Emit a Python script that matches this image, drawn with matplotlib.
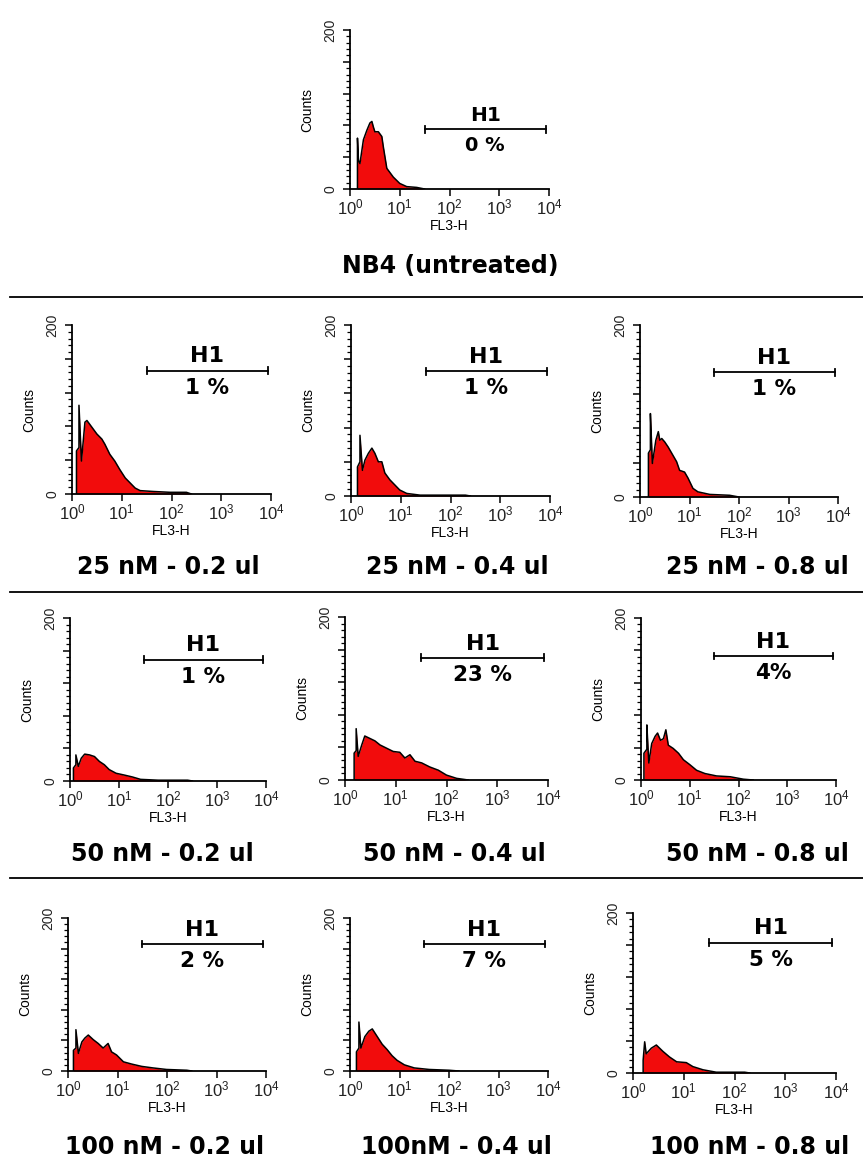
import matplotlib
matplotlib.use('Agg')
import matplotlib.pyplot as plt
import numpy as np
from matplotlib.lines import Line2D
from matplotlib.ticker import FixedLocator, LogLocator, FuncFormatter, NullFormatter

W, H = 863, 1162

# histogram outlines: position in decades (log10 FL3-H) and counts
nb4_pos = [0.15, 0.15, 0.17, 0.2, 0.27, 0.34, 0.4, 0.44, 0.47, 0.5, 0.57, 0.64, 0.67, 0.74, 0.87, 1.0, 1.14, 1.34, 1.5]
nb4_cnt = [0, 64, 36, 32, 62, 74, 83, 85, 78, 72, 72, 66, 53, 26, 15, 7, 3, 2, 0]

a1_pos = [0.09, 0.09, 0.14, 0.14, 0.19, 0.26, 0.3, 0.4, 0.5, 0.6, 0.66, 0.76, 0.86, 0.96, 1.07, 1.17, 1.27, 1.37, 1.63, 1.97, 2.3, 2.4]
a1_cnt = [0, 51, 55, 105, 39, 85, 87, 79, 71, 65, 59, 47, 39, 29, 19, 13, 7, 4, 3, 2, 2, 0]

a2_pos = [0.13, 0.13, 0.18, 0.18, 0.23, 0.28, 0.35, 0.42, 0.48, 0.55, 0.62, 0.68, 0.78, 0.88, 0.98, 1.12, 1.39, 1.8, 2.3, 2.4]
a2_cnt = [0, 34, 40, 71, 30, 42, 50, 56, 50, 40, 40, 27, 19, 13, 7, 3, 1, 1, 1, 0]

a3_pos = [0.17, 0.17, 0.21, 0.21, 0.25, 0.32, 0.37, 0.4, 0.44, 0.5, 0.57, 0.64, 0.74, 0.8, 0.9, 0.97, 1.07, 1.17, 1.41, 1.81, 2.0]
a3_cnt = [0, 51, 55, 97, 39, 66, 76, 66, 68, 64, 58, 51, 41, 31, 29, 22, 10, 6, 3, 2, 0]

b1_pos = [0.07, 0.07, 0.12, 0.12, 0.17, 0.23, 0.3, 0.4, 0.5, 0.6, 0.7, 0.8, 0.94, 1.1, 1.27, 1.44, 1.8, 2.4, 2.5]
b1_cnt = [0, 16, 20, 32, 18, 28, 33, 32, 30, 24, 20, 14, 9.5, 7.4, 5, 2, 1, 1, 0]

b2_pos = [0.18, 0.18, 0.22, 0.22, 0.26, 0.33, 0.39, 0.49, 0.59, 0.69, 0.82, 0.95, 1.08, 1.18, 1.28, 1.38, 1.51, 1.67, 1.84, 2.0, 2.2, 2.43]
b2_cnt = [0, 33, 36, 63, 29, 43, 54, 51, 48, 43, 39, 35, 34, 27, 31, 23, 21, 16, 12, 6, 2, 0]

b3_pos = [0.06, 0.06, 0.12, 0.12, 0.16, 0.22, 0.29, 0.34, 0.4, 0.46, 0.51, 0.56, 0.66, 0.77, 0.87, 1.0, 1.14, 1.31, 1.55, 1.83, 2.1, 2.3]
b3_cnt = [0, 33, 38, 68, 21, 45, 54, 58, 49, 51, 62, 43, 39, 33, 25, 19, 12, 8, 5, 4, 1, 0]

c1_pos = [0.11, 0.11, 0.16, 0.16, 0.21, 0.28, 0.34, 0.41, 0.51, 0.61, 0.71, 0.81, 0.88, 0.98, 1.12, 1.29, 1.49, 1.72, 1.99, 2.4, 2.5]
c1_cnt = [0, 27, 30, 54, 23, 38, 43, 47, 41, 36, 30, 36, 25, 21, 12, 9, 6, 4, 2, 1, 0]

c2_pos = [0.13, 0.13, 0.18, 0.18, 0.22, 0.3, 0.38, 0.45, 0.55, 0.65, 0.75, 0.85, 0.95, 1.1, 1.3, 1.6, 2.0, 2.2]
c2_cnt = [0, 25, 30, 64, 30, 45, 52, 55, 45, 35, 28, 20, 14, 8, 4, 2, 1, 0]

c3_pos = [0.2, 0.2, 0.23, 0.26, 0.36, 0.46, 0.59, 0.72, 0.86, 1.05, 1.18, 1.38, 1.64, 2.2, 2.3]
c3_cnt = [0, 16, 39, 24, 31, 35, 27, 20, 14, 13, 8, 4, 1, 1, 0]

panel_pos = [nb4_pos, a1_pos, a2_pos, a3_pos, b1_pos, b2_pos, b3_pos, c1_pos, c2_pos, c3_pos]
panel_cnt = [nb4_cnt, a1_cnt, a2_cnt, a3_cnt, b1_cnt, b2_cnt, b3_cnt, c1_cnt, c2_cnt, c3_cnt]
gate_pct = ['0 %', '1 %', '1 %', '1 %', '1 %', '23 %', '4%', '2 %', '7 %', '5 %']
gate_lo, gate_hi = 10 ** 1.5, 10 ** 3.93
gate_lvl = [75, 146, 146, 145, 149, 150, 153, 166, 166, 163]
sample_names = ['NB4 (untreated)',
                '25 nM - 0.2 ul', '25 nM - 0.4 ul', '25 nM - 0.8 ul',
                '50 nM - 0.2 ul', '50 nM - 0.4 ul', '50 nM - 0.8 ul',
                '100 nM - 0.2 ul', '100nM - 0.4 ul', '100 nM - 0.8 ul']

# axes boxes in pixels: left, top, right, bottom
boxes = [(350, 30, 549, 189),
         (72, 325, 271, 494), (351, 325, 550, 496), (640, 325, 838, 497),
         (70, 618, 266, 781), (345, 617, 548, 780), (641, 618, 836, 780),
         (68, 918, 266, 1071), (350, 918, 548, 1071), (633, 913, 836, 1073)]
# sample label centres in pixels
name_xy = [(450, 266),
           (168, 567), (457, 567), (757, 567),
           (162, 854), (454, 854), (757, 854),
           (165, 1147), (456, 1147), (750, 1147)]

fig = plt.figure(figsize=(W / 100, H / 100), dpi=100)

tickfmt = FuncFormatter(lambda v, p: r'$\mathregular{10^{%d}}$' % round(np.log10(v)))

for i in range(10):
    l, t, r, b = boxes[i]
    ax = fig.add_axes([l / W, 1 - b / H, (r - l) / W, (b - t) / H])
    x = [10 ** p for p in panel_pos[i]]
    y = panel_cnt[i]
    ax.fill_between(x, y, 0, color='#f20c0c', lw=0)
    ax.plot(x, y, color='black', lw=1.1)

    ax.set_xscale('log')
    ax.set_xlim(1, 1e4)
    ax.set_ylim(0, 200)
    for s in ['top', 'right']:
        ax.spines[s].set_visible(False)
    for s in ['left', 'bottom']:
        ax.spines[s].set_linewidth(1.3)

    ax.xaxis.set_major_locator(FixedLocator([1, 10, 100, 1000, 10000]))
    ax.xaxis.set_major_formatter(tickfmt)
    ax.xaxis.set_minor_locator(LogLocator(base=10, subs=np.arange(2, 10)))
    ax.xaxis.set_minor_formatter(NullFormatter())
    ax.set_yticks([0, 40, 80, 120, 160, 200])
    ax.set_yticklabels(['0', '', '', '', '', '200'], rotation=90, va='center')
    ax.set_yticks(np.arange(0, 201, 8), minor=True)
    ax.tick_params(which='major', length=5, width=1.1, labelsize=12, pad=1)
    ax.tick_params(which='minor', length=3, width=0.9)
    ax.tick_params(axis='y', labelsize=10, pad=4)
    for lab in ax.get_xticklabels() + ax.get_yticklabels():
        lab.set_family('Liberation Sans')
        lab.set_color('#222222')
    ax.set_xlabel('FL3-H', fontsize=10, family='Liberation Sans', labelpad=1)
    ax.set_ylabel('Counts', fontsize=10, family='Liberation Sans', labelpad=7)

    # H1 gate
    g = gate_lvl[i]
    ax.plot([gate_lo, gate_hi], [g, g], color='black', lw=1.3, clip_on=False)
    ax.plot([gate_lo, gate_lo], [g - 4, g + 4], color='black', lw=1.3, clip_on=False)
    ax.plot([gate_hi, gate_hi], [g - 4, g + 4], color='black', lw=1.3, clip_on=False)
    gx = np.sqrt(gate_lo * gate_hi)
    fs = 14.5 if i == 0 else 16
    ax.annotate('H1', (gx, g), xytext=(0, 3), textcoords='offset points',
                ha='center', va='bottom', fontsize=fs, fontweight='bold')
    ax.annotate(gate_pct[i], (gx, g), xytext=(0, -5), textcoords='offset points',
                ha='center', va='top', fontsize=fs - 0.5, fontweight='bold')

    nx, ny = name_xy[i]
    fig.text(nx / W, 1 - ny / H, sample_names[i], ha='center', va='center',
             fontsize=17, fontweight='bold')

# separators between rows
for yy in [297, 592, 878]:
    fig.add_artist(Line2D([10 / W, 1], [1 - yy / H, 1 - yy / H], color='black', lw=1.3))

fig.savefig('out.png', dpi=100)
